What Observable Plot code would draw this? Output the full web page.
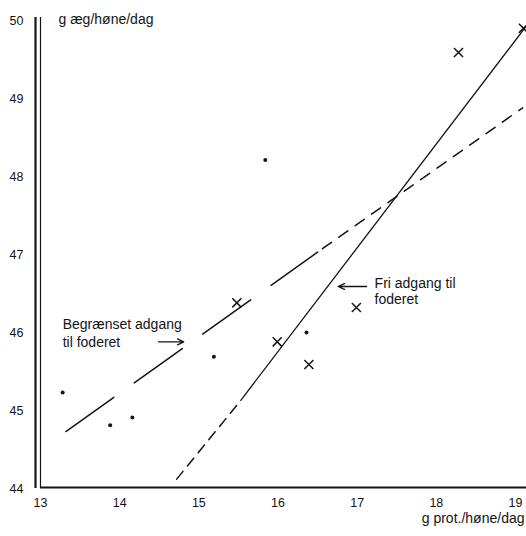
<!DOCTYPE html>
<html>
<head>
<meta charset="utf-8">
<script src="https://cdn.jsdelivr.net/npm/d3@7"></script>
<script src="https://cdn.jsdelivr.net/npm/@observablehq/plot@0.6"></script>
<style>
  html, body { margin: 0; padding: 0; background: #fff; }
  #chart svg { display: block; }
</style>
</head>
<body>
<div id="chart"></div>
<script>
// Tick labels
const xTicks = [13, 14, 15, 16, 17, 18, 19];
const yTicks = [44, 45, 46, 47, 48, 49, 50];

// Begrænset adgang til foderet (dots)
const begX = [13.28, 13.88, 14.16, 15.19, 15.84, 16.36];
const begY = [45.23, 44.81, 44.91, 45.69, 48.21, 46.00];

// Fri adgang til foderet (crosses)
const friX = [15.48, 15.99, 16.39, 16.99, 18.28, 19.10];
const friY = [46.38, 45.88, 45.59, 46.32, 49.59, 49.90];

// Regression lines: [start, end of drawn range, end of extrapolation]
const begLineX = [13.32, 16.50, 19.09];
const begLineY = [44.73, 47.03, 48.88];
const friLineX = [14.72, 15.53, 19.13];
const friLineY = [44.12, 45.13, 49.92];

// Annotations
const noteText = ["Begrænset adgang\ntil foderet", "Fri adgang til\nfoderet"];
const noteX = [13.28, 17.22];
const noteY = [46.00, 46.53];
const arrowX1 = [14.49, 17.12];
const arrowX2 = [14.81, 16.76];
const arrowY = [45.88, 46.59];

const xLabel = "g prot./høne/dag";
const yLabel = "g æg/høne/dag";

const pts = (xs, ys) => xs.map((x, i) => ({x, y: ys[i]}));
const beg = pts(begX, begY);
const fri = pts(friX, friY);
const begLine = pts(begLineX, begLineY);
const friLine = pts(friLineX, friLineY);
const notes = noteText.map((t, i) => ({t, x: noteX[i], y: noteY[i]}));
const arrows = arrowX1.map((x1, i) => ({x1, x2: arrowX2[i], y: arrowY[i]}));

const ink = "#141414";
const font = "'Liberation Sans', Arial, Helvetica, sans-serif";

const chart = Plot.plot({
  width: 526,
  height: 536,
  marginLeft: 40,
  marginRight: 11,
  marginTop: 20,
  marginBottom: 48,
  style: {background: "#fff", color: ink, fontFamily: font, fontSize: "12.5px"},
  x: {domain: [13, 19], ticks: xTicks},
  y: {domain: [44, 50], ticks: yTicks},
  marks: [
    Plot.axisX({ticks: xTicks, tickFormat: "d", tickSize: 0, tickPadding: 10, label: null, fontSize: 12.5}),
    Plot.axisY({ticks: yTicks, tickFormat: "d", tickSize: 0, tickPadding: 17, label: null, fontSize: 12.5}),
    // double vertical axis line
    Plot.ruleX([13], {y1: 44, y2: 50.04, dx: -5, stroke: ink, strokeWidth: 2.2}),
    Plot.ruleX([13], {y1: 44, y2: 50.04, stroke: ink, strokeWidth: 1.2}),
    // horizontal axis line
    Plot.ruleY([44], {x1: 13, x2: 19.2, dy: -1, stroke: ink, strokeWidth: 1.8}),
    // Begrænset line: long dashes, then short dashes
    Plot.line(begLine.slice(0, 2), {x: "x", y: "y", stroke: ink, strokeWidth: 1.5, strokeDasharray: "59,25"}),
    Plot.line(begLine.slice(1, 3), {x: "x", y: "y", stroke: ink, strokeWidth: 1.5, strokeDasharray: "11,9", strokeDashoffset: -6}),
    // Fri line: short dashes, then solid
    Plot.line(friLine.slice(0, 2), {x: "x", y: "y", stroke: ink, strokeWidth: 1.5, strokeDasharray: "10,7"}),
    Plot.line(friLine.slice(1, 3), {x: "x", y: "y", stroke: ink, strokeWidth: 1.3}),
    // points
    Plot.dot(beg, {x: "x", y: "y", r: 2, fill: ink, stroke: "none"}),
    Plot.dot(fri, {x: "x", y: "y", symbol: "times", r: 4.2, stroke: ink, strokeWidth: 1.5}),
    // annotations
    Plot.text(notes.slice(0, 1), {x: "x", y: "y", text: "t", textAnchor: "start", lineAnchor: "middle", lineHeight: 1.3, fontSize: 14, fill: ink}),
    Plot.text(notes.slice(1, 2), {x: "x", y: "y", text: "t", textAnchor: "start", lineAnchor: "middle", lineHeight: 1.12, fontSize: 14, fill: ink}),
    Plot.arrow(arrows, {x1: "x1", x2: "x2", y1: "y", y2: "y", stroke: ink, strokeWidth: 1.3, headLength: 8, headAngle: 50}),
    // axis titles
    Plot.text([yLabel], {frameAnchor: "top-left", dx: 18, dy: -1, textAnchor: "start", lineAnchor: "middle", fontSize: 14, fill: ink}),
    Plot.text([xLabel], {frameAnchor: "bottom-right", dx: 9, dy: 30, textAnchor: "end", lineAnchor: "middle", fontSize: 14, fill: ink})
  ]
});

document.getElementById("chart").appendChild(chart);
</script>
</body>
</html>
